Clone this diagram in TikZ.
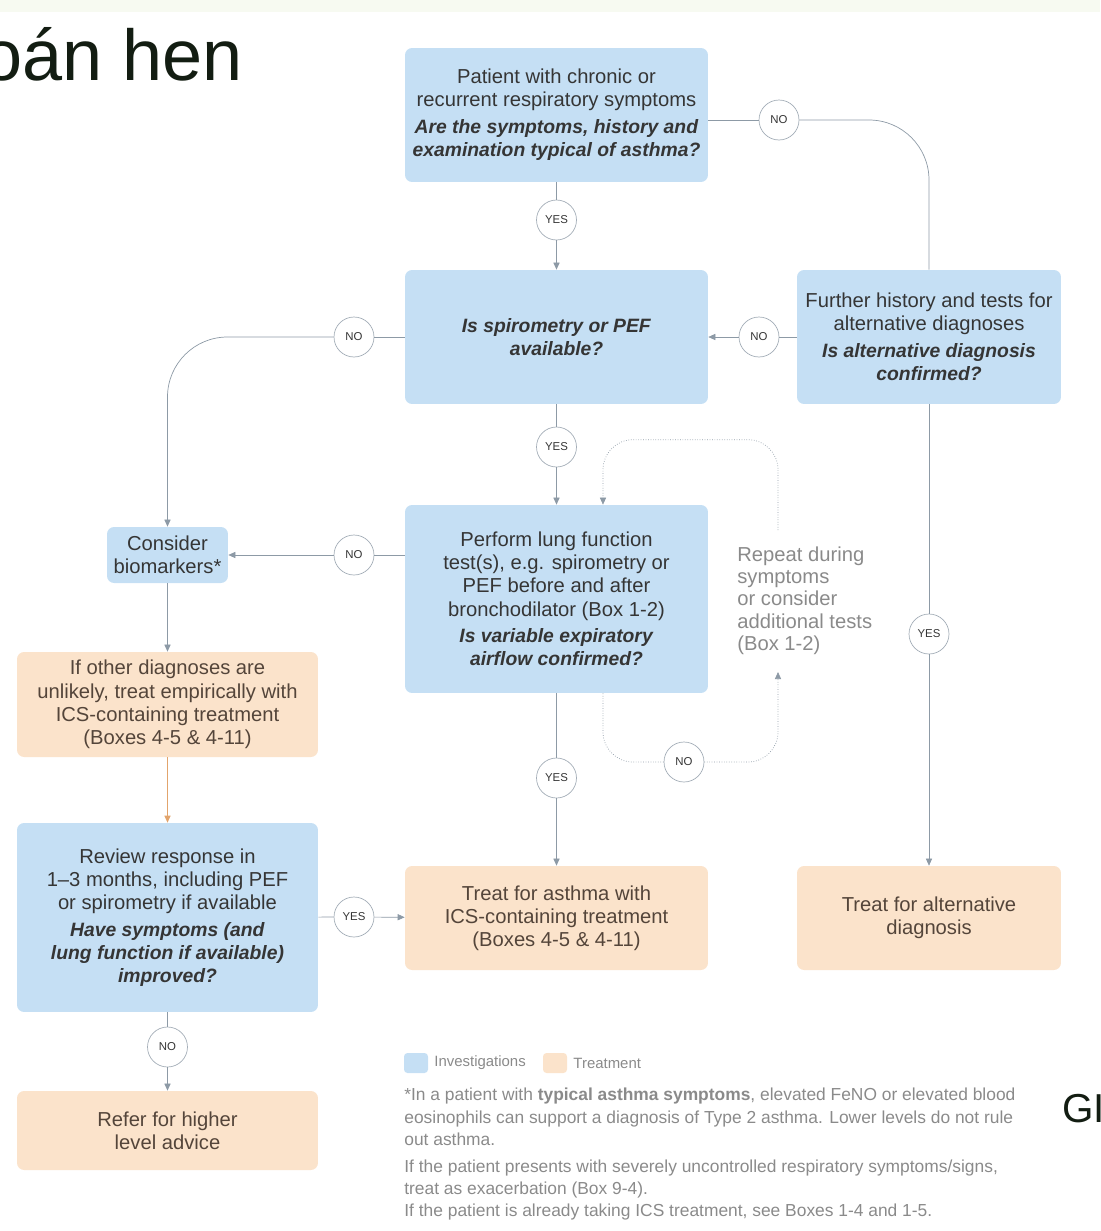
\documentclass[tikz,border=0pt]{standalone}
\usepackage{fontspec}
\setmainfont{Liberation Sans}
\usepackage{tikz}
\usetikzlibrary{positioning, arrows.meta, shapes}
\definecolor{invblue}{HTML}{C5DFF4}
\definecolor{treatorange}{HTML}{FBE3CB}
\definecolor{linegrey}{HTML}{8D9AA6}
\definecolor{textdark}{HTML}{353535}
\definecolor{textbrown}{HTML}{54453A}
\definecolor{notegrey}{HTML}{8A8A8A}
\definecolor{titledark}{HTML}{131D12}
\definecolor{empiricalarrow}{HTML}{E2A46C}
\definecolor{topband}{HTML}{F7FAF1}
\tikzstyle{investigation} = [rectangle, rounded corners=4pt, align=center, fill=invblue, text=textdark, font=\fontsize{11.5}{13.2}\selectfont]
\tikzstyle{treatment} = [rectangle, rounded corners=4pt, align=center, fill=treatorange, text=textbrown, font=\fontsize{11.5}{13.2}\selectfont]
\tikzstyle{answer} = [circle, draw=linegrey!80, fill=white, minimum size=0.8cm, inner sep=0pt, text=textdark, font=\fontsize{6.5}{7}\selectfont]
\tikzstyle{connector} = [linegrey, thin]
\tikzstyle{arrow} = [connector, -{Triangle[length=4pt,width=3.5pt]}]
\tikzstyle{loopline} = [linegrey, densely dotted, thin]
\tikzstyle{legendbox} = [rectangle, rounded corners=2pt, minimum width=0.48cm, minimum height=0.4cm, inner sep=0pt]
\tikzstyle{legendtext} = [text=notegrey, font=\fontsize{8.5}{10}\selectfont, inner sep=1pt]
\newcommand{\ask}[1]{{\fontsize{11}{13.2}\selectfont\textbf{\textit{#1}}}}

\begin{document}
\begin{tikzpicture}[x=0.02cm, y=-0.02cm]
	\useasboundingbox (0,0) rectangle (1100,1231);
	\fill [topband] (0,0) rectangle (1100,12);
	\node (title) [anchor=base west, inner sep=0pt, text=titledark, font=\fontsize{41}{41}\selectfont] at (-18,80) {oán hen};
	\node (gina) [anchor=base west, inner sep=0pt, text=titledark, font=\fontsize{23}{23}\selectfont] at (1062,1122) {GI};
	
	\node (symptoms) [investigation, minimum width=6.06cm, minimum height=2.68cm] at (556.5,115) {Patient with chronic or\\recurrent respiratory symptoms\\[2pt]\ask{Are the symptoms, history and}\\\ask{examination typical of asthma?}};
	\node (spiro) [investigation, minimum width=6.06cm, minimum height=2.68cm] at (556.5,337) {\ask{Is spirometry or PEF}\\\ask{available?}};
	\node (further) [investigation, minimum width=5.28cm, minimum height=2.68cm] at (929,337) {Further history and tests for\\alternative diagnoses\\[2pt]\ask{Is alternative diagnosis}\\\ask{confirmed?}};
	\node (lung) [investigation, minimum width=6.06cm, minimum height=3.76cm] at (556.5,599) {Perform lung function\\test(s), e.g. spirometry or\\PEF before and after\\bronchodilator (Box 1-2)\\[2pt]\ask{Is variable expiratory}\\\ask{airflow confirmed?}};
	\node (bio) [investigation, minimum width=2.42cm, minimum height=1.12cm] at (167.5,555) {Consider\\biomarkers*};
	\node (empirical) [treatment, minimum width=6.02cm, minimum height=2.1cm] at (167.5,704.5) {If other diagnoses are\\unlikely, treat empirically with\\ICS-containing treatment\\(Boxes 4-5 \& 4-11)};
	\node (review) [investigation, minimum width=6.02cm, minimum height=3.78cm] at (167.5,917.5) {Review response in\\1--3 months, including PEF\\or spirometry if available\\[2pt]\ask{Have symptoms (and}\\\ask{lung function if available)}\\\ask{improved?}};
	\node (refer) [treatment, minimum width=6.02cm, minimum height=1.58cm] at (167.5,1130.5) {Refer for higher\\level advice};
	\node (treatAsthma) [treatment, minimum width=6.06cm, minimum height=2.08cm] at (556.5,918) {Treat for asthma with\\ICS-containing treatment\\(Boxes 4-5 \& 4-11)};
	\node (treatAlt) [treatment, minimum width=5.28cm, minimum height=2.08cm] at (929,918) {Treat for alternative\\diagnosis};
	\node (repeat) [anchor=north west, inner sep=0pt, align=left, text=notegrey, font=\fontsize{11.5}{12.8}\selectfont] at (737,546) {Repeat during\\symptoms\\or consider\\additional tests\\(Box 1-2)};
	
	\node (noFurther) [answer] at (779,120) {NO};
	\node (yesSpiro) [answer] at (556.5,220) {YES};
	\node (noAlt) [answer] at (759,337) {NO};
	\node (noBio) [answer] at (354,337) {NO};
	\node (yesLung) [answer] at (556.5,447) {YES};
	\node (noLung) [answer] at (354,555) {NO};
	\node (yesAlt) [answer] at (929,634) {YES};
	\node (yesTreat) [answer] at (556.5,778) {YES};
	\node (noRepeat) [answer] at (684,762) {NO};
	\node (yesReview) [answer] at (354,917) {YES};
	\node (noRefer) [answer] at (167.5,1047) {NO};
	\coordinate (repeatIn) at (778,672);
	\coordinate (repeatOut) at (778,530);
	
	\draw [connector] (symptoms.east |- noFurther) -- (noFurther);
	\draw [connector, rounded corners=1.2cm] (noFurther) -| (further);
	\draw [connector] (symptoms) -- (yesSpiro);
	\draw [arrow] (yesSpiro) -- (spiro);
	\draw [connector] (further) -- (noAlt);
	\draw [arrow] (noAlt) -- (spiro);
	\draw [connector] (spiro) -- (noBio);
	\draw [arrow, rounded corners=1.2cm] (noBio) -| (bio);
	\draw [connector] (spiro) -- (yesLung);
	\draw [arrow] (yesLung) -- (lung);
	\draw [connector] (lung.west |- noLung) -- (noLung);
	\draw [arrow] (noLung) -- (bio);
	\draw [arrow] (bio) -- (empirical);
	\draw [arrow, empiricalarrow] (empirical) -- (review);
	\draw [connector] (review) -- (yesReview);
	\draw [arrow] (yesReview) -- (treatAsthma);
	\draw [connector] (review) -- (noRefer);
	\draw [arrow] (noRefer) -- (refer);
	\draw [connector] (lung) -- (yesTreat);
	\draw [arrow] (yesTreat) -- (treatAsthma);
	\draw [connector] (further) -- (yesAlt);
	\draw [arrow] (yesAlt) -- (treatAlt);
	
	% repeat loop
	\draw [loopline, rounded corners=0.6cm] ([xshift=0.93cm]lung.south) |- (noRepeat);
	\draw [loopline, -{Triangle[length=4pt,width=3.5pt]}, rounded corners=0.6cm] (noRepeat) -| (repeatIn);
	\draw [loopline, -{Triangle[length=4pt,width=3.5pt]}, rounded corners=0.6cm] (repeatOut) |- ([xshift=0.93cm, yshift=1.3cm]lung.north) -- ([xshift=0.93cm]lung.north);
	
	\node (legendInv) [legendbox, fill=invblue] at (416,1063) {};
	\node (legendInvText) [legendtext, right=0.08cm of legendInv] {Investigations};
	\node (legendTreat) [legendbox, fill=treatorange] at (555,1063) {};
	\node (legendTreatText) [legendtext, right=0.08cm of legendTreat] {Treatment};
	\node (footnote) [anchor=north west, inner sep=0pt, align=left, text=notegrey, font=\fontsize{9.9}{12.6}\selectfont] at (404,1088) {*In a patient with \textbf{typical asthma symptoms}, elevated FeNO or elevated blood\\eosinophils can support a diagnosis of Type 2 asthma. Lower levels do not rule\\out asthma.\\[3pt]If the patient presents with severely uncontrolled respiratory symptoms/signs,\\treat as exacerbation (Box 9-4).\\If the patient is already taking ICS treatment, see Boxes 1-4 and 1-5.};
\end{tikzpicture}
\end{document}
